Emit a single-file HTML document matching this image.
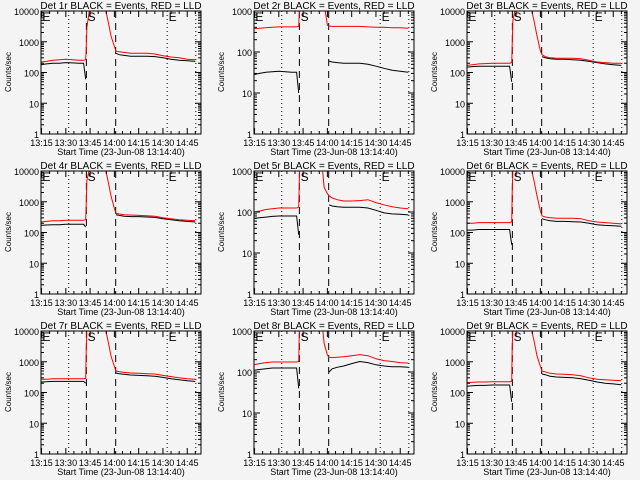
<!DOCTYPE html>
<html><head><meta charset="utf-8"><style>
html,body{margin:0;padding:0;background:#f4f4f4;}
svg{display:block;font-family:"Liberation Sans",sans-serif;}
</style></head><body>
<svg id="c" width="640" height="480"></svg>
<script>
const times = [14.7,18,22,26,30,34,38,41,42.3,42.6,43,45,50,54,56,58,60,61,63,66,70,75,80,85,90,95,100,105,110];
const panelNames = ["1r","2r","3r","4r","5r","6r","7r","8r","9r"];
const panelMax = [10000,1000,10000,10000,1000,10000,10000,1000,10000];
const xTickLabels = ["13:15","13:30","13:45","14:00","14:15","14:30","14:45"];
const xTickValues = [15,30,45,60,75,90,105];
const vDotted = [31.8,92.6,110.3];
const vDashed = [42.7,60.8];
const N = null;
const red1=[220,230,250,260,270,260,250,250,260,600,3000,15000,15000,15000,5000,1500,700,500,470,450,420,420,420,400,350,320,300,270,260];
const blk1=[180,190,200,200,210,205,200,200,60,N,N,N,N,N,N,N,N,420,380,360,340,340,340,330,300,270,250,240,230];
const red2=[370,380,390,400,410,410,410,410,420,900,3000,3000,3000,3000,3000,1500,450,430,420,420,420,420,420,410,400,400,390,390,380];
const blk2=[28,30,32,33,34,33,32,32,10,N,N,N,N,N,N,N,N,60,57,55,53,53,53,50,45,40,36,34,32];
const red3=[170,180,190,195,200,200,200,200,210,800,5000,15000,15000,15000,5000,1500,500,380,330,300,290,290,290,280,250,220,210,200,200];
const blk3=[150,155,160,160,160,160,160,160,50,N,N,N,N,N,N,N,N,330,300,280,270,270,260,250,230,210,190,180,170];
const red4=[220,230,240,240,250,250,250,250,260,800,5000,15000,15000,15000,5000,1500,600,420,400,380,370,360,350,340,300,280,260,250,240];
const blk4=[170,175,180,180,185,185,185,185,150,N,N,N,N,N,N,N,N,380,360,340,330,330,320,310,280,260,240,230,220];
const red5=[100,105,115,120,125,125,125,125,130,400,3000,3000,3000,3000,3000,400,280,250,220,200,185,185,190,200,170,150,135,125,120];
const blk5=[70,72,75,78,80,80,80,80,28,N,N,N,N,N,N,N,N,150,140,135,130,130,130,125,110,95,90,88,85];
const red6=[200,200,210,210,210,210,210,210,220,2000,12000,15000,15000,15000,5000,1500,500,350,320,300,290,290,290,280,240,220,210,200,190];
const blk6=[120,120,125,125,125,125,125,125,40,N,N,N,N,N,N,N,N,280,260,240,230,230,225,220,200,180,170,165,160];
const red7=[270,270,280,280,280,280,280,280,290,2000,12000,15000,15000,15000,5000,1500,700,500,480,450,430,420,410,400,360,330,300,280,270];
const blk7=[220,225,230,230,230,230,230,230,200,N,N,N,N,N,N,N,N,430,410,390,370,360,350,340,310,280,260,240,230];
const red8=[150,160,170,175,175,175,175,175,180,700,3000,3000,3000,3000,3000,500,260,230,225,230,235,250,265,250,210,190,180,170,165];
const blk8=[110,115,120,125,125,125,125,125,40,N,N,N,N,N,N,N,N,100,120,130,140,160,180,170,150,140,135,135,130];
const red9=[210,215,220,220,225,225,225,225,230,3000,12000,15000,15000,15000,5000,1500,700,500,470,420,400,390,380,350,300,270,260,250,240];
const blk9=[160,165,170,170,175,175,175,175,50,N,N,N,N,N,N,N,N,400,380,340,320,310,300,280,250,220,200,190,180];
const reds=[red1,red2,red3,red4,red5,red6,red7,red8,red9];
const blks=[blk1,blk2,blk3,blk4,blk5,blk6,blk7,blk8,blk9];

const NS="http://www.w3.org/2000/svg";
const svg=document.getElementById('c');
function mk(tag,attrs,parent){const e=document.createElementNS(NS,tag);for(const k in attrs)e.setAttribute(k,attrs[k]);(parent||svg).appendChild(e);return e;}
const T0=14.67,T1=113.5;
for(let p=0;p<9;p++){
  const ox=(p%3)*213, oy=Math.floor(p/3)*160;
  const L=ox+41,R=ox+201,Tp=oy+11,B=oy+134;
  const maxV=panelMax[p], dec=Math.log10(maxV);
  const xs=t=>L+(t-T0)/(T1-T0)*(R-L);
  const ys=v=>B-Math.log10(Math.max(v,0.5))/dec*(B-Tp);
  const g=mk('g',{});
  
  
  const clipId='cl'+p;
  const cp=mk('clipPath',{id:clipId},g);mk('rect',{x:L,y:Tp,width:R-L,height:B-Tp},cp);
  const title=mk('text',{x:(L+R)/2,y:oy+9,'font-size':10,'text-anchor':'middle',fill:'#000'},g);
  title.textContent='Det '+panelNames[p]+' BLACK = Events, RED = LLD';
  
  
  vDotted.forEach(t=>{const l=mk('line',{x1:xs(t),x2:xs(t),y1:Tp,y2:B,stroke:'#000','stroke-width':1,'stroke-dasharray':'1,3'},g);});
  vDashed.forEach(t=>{const l=mk('line',{x1:xs(t),x2:xs(t),y1:Tp,y2:B,stroke:'#000','stroke-width':1,'stroke-dasharray':'7,5'},g);});
  [['E',xs(15.5)],['S',xs(43.5)],['E',xs(93.5)]].forEach(([s,x])=>{const tt=mk('text',{x:x,y:Tp+10,'font-size':12,fill:'#000'},g);tt.textContent=s;});
  function path(arr,color,name){
    let d='',pen=false;
    for(let i=0;i<times.length;i++){
      if(arr[i]==null){pen=false;continue;}
      d+=(pen?'L':'M')+xs(times[i]).toFixed(1)+','+ys(arr[i]).toFixed(1);pen=true;
    }
    const pa=mk('path',{d:d,fill:'none',stroke:color,'stroke-width':1,'clip-path':'url(#'+clipId+')'},g);
    
    
  }
  path(blks[p],'#000','events-line');
  path(reds[p],'#ff0000','lld-line');
  const fr=mk('rect',{x:L,y:Tp,width:R-L,height:B-Tp,fill:'none',stroke:'#000','stroke-width':1},g);
  
  for(let k=0;k<=dec;k++){
    const v=Math.pow(10,k),y=ys(v);
    mk('line',{x1:L,x2:L+6,y1:y,y2:y,stroke:'#000'},g);
    mk('line',{x1:R,x2:R-6,y1:y,y2:y,stroke:'#000'},g);
    const tl=mk('text',{x:L-2,y:y+4,'font-size':9,'text-anchor':'end',fill:'#000'},g);
    tl.textContent=String(v);
    
    if(k<dec)for(let m=2;m<=9;m++){const ym=ys(v*m);mk('line',{x1:L,x2:L+3,y1:ym,y2:ym,stroke:'#000'},g);mk('line',{x1:R,x2:R-3,y1:ym,y2:ym,stroke:'#000'},g);}
  }
  xTickValues.forEach((t,i)=>{
    const x=xs(t);
    mk('line',{x1:x,x2:x,y1:B,y2:B-6,stroke:'#000'},g);
    mk('line',{x1:x,x2:x,y1:Tp,y2:Tp+6,stroke:'#000'},g);
    const tl=mk('text',{x:x,y:B+12,'font-size':9,'text-anchor':'middle',fill:'#000'},g);
    tl.textContent=xTickLabels[i];
    
  });
  for(let t=20;t<T1;t+=5){if(t%15===0)continue;const x=xs(t);mk('line',{x1:x,x2:x,y1:B,y2:B-3,stroke:'#000'},g);mk('line',{x1:x,x2:x,y1:Tp,y2:Tp+3,stroke:'#000'},g);}
  const xt=mk('text',{x:ox+121,y:oy+155,'font-size':9,'text-anchor':'middle',fill:'#000'},g);
  xt.textContent='Start Time (23-Jun-08 13:14:40)';
  
  const yt=mk('text',{x:0,y:0,'font-size':8,'text-anchor':'middle',fill:'#000',transform:'translate('+(ox+11)+','+(oy+72)+') rotate(-90)'},g);
  yt.textContent='Counts/sec';
  
}
</script>
</body></html>
